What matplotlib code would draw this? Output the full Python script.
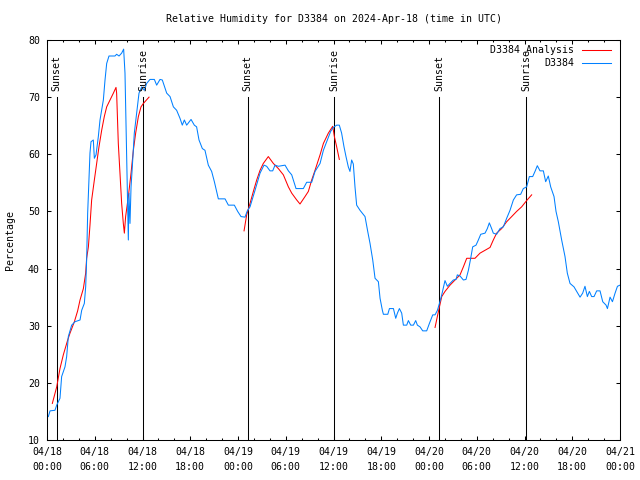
import matplotlib
matplotlib.use("Agg")
import matplotlib.pyplot as plt

plt.rcParams['font.family'] = ['DejaVu Sans Mono']
plt.rcParams['font.size'] = 7.1

# horas desde 2024-04-18 00:00 UTC
obs_h = [0.17, 0.38, 1.0, 1.22, 1.63, 1.84, 2.26, 2.47, 2.68, 3.1, 3.52, 4.15, 4.36, 4.69,
         4.86, 4.98, 5.11, 5.28, 5.4, 5.53, 5.82, 5.95, 6.16, 6.45, 6.66, 7.08, 7.29, 7.5,
         7.79, 8.54, 8.75, 9.05, 9.38, 9.63, 9.8, 9.97, 10.13, 10.22, 10.3, 10.43, 10.56,
         10.72, 10.97, 11.27, 11.56, 11.9, 12.23, 12.52, 12.94, 13.49, 13.78, 14.2, 14.49,
         15.04, 15.46, 15.88, 16.29, 16.71, 17.0, 17.26, 17.55, 18.1, 18.51, 18.8, 19.1,
         19.52, 19.85, 20.27, 20.69, 21.03, 21.32, 21.53, 22.37, 22.79, 23.54, 23.96,
         24.38, 24.88, 25.17, 25.51, 26.14, 26.77, 27.27, 27.6, 28.02, 28.36, 28.65,
         29.07, 29.91, 30.33, 30.75, 31.29, 32.21, 32.63, 33.26, 33.68, 34.31, 34.73,
         35.23, 35.64, 35.98, 36.4, 36.73, 37.02, 37.32, 37.57, 37.86, 38.07, 38.28,
         38.49, 38.7, 38.91, 39.33, 39.96, 40.3, 40.59, 40.93, 41.22, 41.64, 41.85,
         42.14, 42.27, 42.82, 43.03, 43.53, 43.82, 44.03, 44.28, 44.57, 44.78, 45.2,
         45.41, 45.7, 46.04, 46.33, 46.54, 46.87, 47.21, 47.71, 48.05, 48.47, 48.76,
         49.06, 49.31, 49.6, 50.01, 50.31, 50.64, 51.06, 51.4, 51.56, 51.9, 52.32,
         52.65, 52.95, 53.24, 53.49, 53.91, 54.2, 54.5, 55.04, 55.33, 55.58, 55.87,
         56.08, 56.5, 56.92, 57.34, 57.76, 58.18, 58.6, 59.01, 59.52, 59.85, 60.27,
         60.61, 61.03, 61.32, 61.61, 61.95, 62.37, 62.66, 62.99, 63.29, 63.71, 63.96,
         64.25, 64.67, 65.09, 65.38, 65.72, 66.22, 66.56, 66.98, 67.31, 67.6, 67.9,
         68.15, 68.44, 68.74, 69.07, 69.49, 69.83, 70.25, 70.42, 70.75, 71.05, 71.38,
         71.68, 72.0]
obs_val = [14.1, 15.1, 15.2, 16.1, 17.3, 21.1, 22.8, 24.6, 28.1, 30.1, 30.7, 31.0, 32.7, 33.9,
           36.8, 41.5, 49.7, 56.1, 60.2, 62.2, 62.5, 59.3, 59.9, 63.1, 66.0, 69.5, 73.0, 75.9,
           77.2, 77.2, 77.5, 77.2, 77.7, 78.4, 74.2, 62.5, 50.8, 45.0, 53.2, 47.9, 54.3,
           57.8, 63.7, 67.2, 70.7, 71.8, 71.2, 72.4, 73.1, 73.1, 72.1, 73.1, 73.0,
           70.7, 70.1, 68.3, 67.7, 66.3, 65.1, 66.0, 65.1, 66.1, 65.1, 64.8, 62.5,
           61.0, 60.7, 58.1, 57.0, 55.2, 53.5, 52.2, 52.2, 51.1, 51.1, 50.0,
           49.1, 49.0, 50.1, 50.8, 53.7, 56.7, 58.1, 57.9, 57.1, 57.1, 58.1,
           57.9, 58.1, 57.1, 56.4, 54.0, 54.0, 55.1, 55.1, 57.0, 58.4, 60.7,
           62.5, 64.0, 64.7, 65.1, 65.1, 63.7, 61.3, 59.6, 57.8, 57.0, 59.0,
           58.3, 54.3, 51.1, 50.2, 49.1, 46.5, 44.4, 41.5, 38.3, 37.7, 34.8,
           32.7, 32.0, 32.0, 33.0, 33.0, 31.3, 32.2, 33.0, 32.2, 30.1, 30.1,
           30.9, 30.1, 30.1, 30.9, 30.1, 29.8, 29.1, 29.1, 30.4, 31.9, 31.9,
           32.7, 33.9, 35.4, 37.9, 36.9, 37.4, 38.0, 38.1, 38.9, 38.7, 38.0,
           38.1, 39.7, 41.8, 43.8, 44.1, 45.0, 46.0, 46.2, 47.0, 48.0, 47.0,
           46.2, 46.0, 47.0, 47.3, 48.8, 50.2, 52.0, 52.9, 53.0, 54.0, 54.3,
           56.1, 56.1, 57.0, 58.0, 57.1, 57.1, 55.2, 56.2, 54.3, 52.6, 50.0,
           48.2, 45.0, 42.1, 39.2, 37.4, 36.8, 36.0, 35.0, 35.7, 36.9, 35.1,
           36.0, 35.1, 35.1, 36.1, 36.1, 34.2, 33.6, 33.0, 35.0, 34.2, 35.7,
           36.9, 37.1]

# análisis (tres tramos, separados por None)
ana_h = [0.67, 1.22, 1.63, 2.05, 2.6, 2.89, 3.44, 3.85, 4.15, 4.57, 4.86, 4.98, 5.2, 5.4,
         5.61, 5.95, 6.24, 6.53, 6.87, 7.2, 7.5, 7.92, 8.34, 8.67, 8.75, 8.96, 9.17, 9.38,
         9.59, 9.72, 9.88, 10.22, 10.56, 10.85, 11.14, 11.48, 11.81, 12.11, 12.82, None,
         24.76, 25.09, 25.51, 25.93, 26.35, 26.77, 27.18, 27.81, 28.44, 29.07, 29.7,
         30.33, 30.75, 31.38, 31.79, 32.42, 32.84, 33.26, 33.68, 34.31, 34.73, 35.35,
         35.9, 36.11, 36.4, 36.73, None,
         48.76, 49.17, 49.6, 50.01, 50.64, 51.27, 51.9, 52.32, 52.74, 53.78, 54.41,
         55.04, 55.67, 56.08, 56.5, 57.13, 57.76, 58.39, 59.01, 59.64, 60.27, 60.9]
ana_val = [16.4, 19.3, 22.5, 24.9, 27.5, 28.7, 30.7, 32.6, 34.5, 36.5, 39.2, 41.8, 43.8, 47.6,
           52.0, 55.5, 58.4, 61.3, 64.2, 66.6, 68.3, 69.5, 70.7, 71.7, 70.7, 61.9, 56.7, 51.4,
           47.9, 46.2, 49.1, 52.6, 56.7, 60.7, 63.7, 66.6, 68.3, 68.9, 70.0, None,
           46.6, 49.4, 51.4, 53.5, 55.5, 57.2, 58.4, 59.6, 58.4, 57.5, 56.4,
           54.3, 53.2, 52.0, 51.3, 52.6, 53.5, 55.5, 57.2, 59.9, 61.9, 63.7,
           64.9, 63.1, 61.3, 59.1, None,
           29.7, 32.4, 35.1, 36.0, 37.1, 38.0, 38.9, 40.3, 41.8, 41.8, 42.7,
           43.2, 43.7, 45.0, 46.2, 47.0, 48.2, 49.1, 50.0, 50.8, 51.9, 52.9]

sun_h = [1.2, 12.05, 25.2, 36.1, 49.25, 60.2]
sun_lbl = ["Sunset", "Sunrise", "Sunset", "Sunrise", "Sunset", "Sunrise"]

tick_h = list(range(0, 73, 6))
tick_lbl = ["04/18\n00:00", "04/18\n06:00", "04/18\n12:00", "04/18\n18:00",
            "04/19\n00:00", "04/19\n06:00", "04/19\n12:00", "04/19\n18:00",
            "04/20\n00:00", "04/20\n06:00", "04/20\n12:00", "04/20\n18:00",
            "04/21\n00:00"]

fig = plt.figure(figsize=(6.4, 4.8), dpi=100)
ax = fig.add_axes([47 / 640, 40 / 480, 573 / 640, 400 / 480])

lw = 0.75
for h, t in zip(sun_h, sun_lbl):
    ax.plot([h, h], [10, 70], color="black", lw=lw)
    ax.text(h, 71, t, rotation=90, ha="center", va="bottom")

xs = [h if h is not None else float("nan") for h in ana_h]
ys = [v if v is not None else float("nan") for v in ana_val]
ax.plot(xs, ys, color="#ff0000", lw=lw, label="D3384 Analysis")
ax.plot(obs_h, obs_val, color="#0080ff", lw=lw, label="D3384")

ax.set_xlim(0, 72)
ax.set_ylim(10, 80)
ax.set_xticks(tick_h)
ax.set_xticklabels(tick_lbl, linespacing=1.6)
ax.set_xticks(range(0, 73, 2), minor=True)
ax.set_yticks(range(10, 81, 10))
ax.tick_params(axis="both", which="major", direction="in", length=3.2, width=0.75,
               top=True, right=True, color="black")
ax.tick_params(axis="x", which="major", pad=5)
ax.tick_params(axis="y", which="major", pad=5)
ax.tick_params(axis="x", which="minor", direction="in", length=1.7, width=0.75, top=True)
for s in ax.spines.values():
    s.set_linewidth(0.75)

ax.set_ylabel("Percentage")
ax.yaxis.set_label_coords(-32 / 573, 0.5)

fig.text(333.5 / 640, 1 - 19 / 480, "Relative Humidity for D3384 on 2024-Apr-18 (time in UTC)",
         ha="center", va="center")

ax.legend(loc="upper right", frameon=False, markerfirst=False, handlelength=2.9,
          handletextpad=0.8, borderaxespad=0.25, borderpad=0.3, labelspacing=0.3,
          bbox_to_anchor=(1 - 4 / 573, 1))

fig.savefig("out.png", dpi=100)
